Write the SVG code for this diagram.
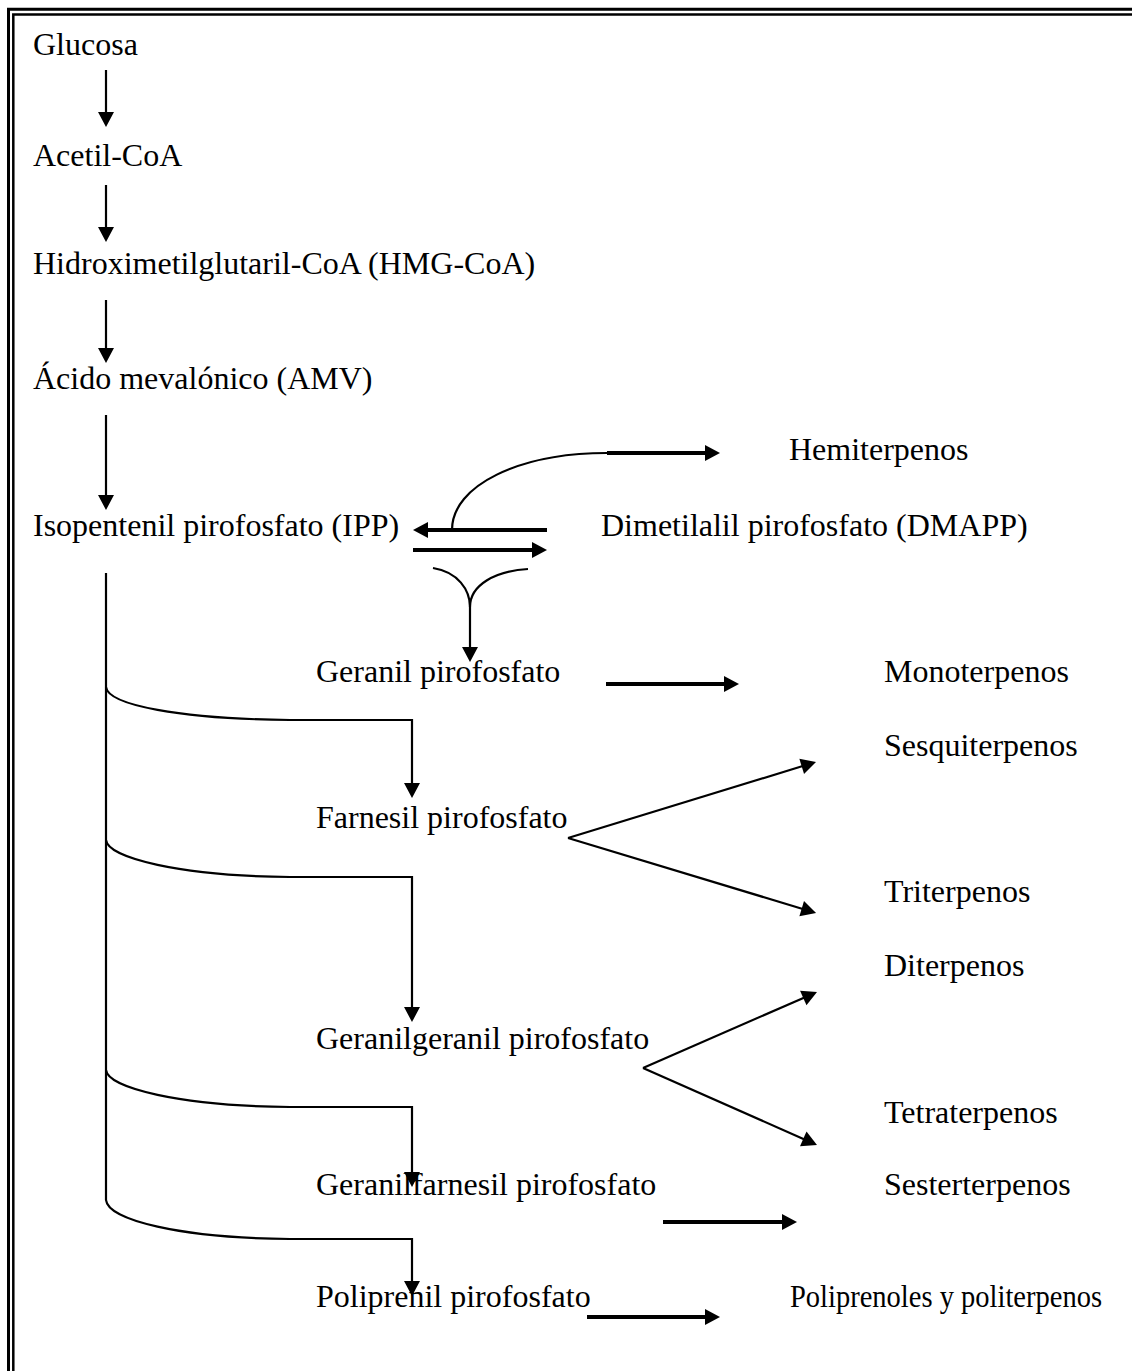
<svg xmlns="http://www.w3.org/2000/svg" width="1132" height="1371" viewBox="0 0 1132 1371">
<style>
text{font-family:"Liberation Serif","Times New Roman",serif;font-size:32px;fill:#000}
.thin{fill:none;stroke:#000;stroke-width:2.2}
.thick{fill:none;stroke:#000;stroke-width:4}
.border{fill:none;stroke:#000}
</style>
<defs>
<marker id="ah" markerUnits="userSpaceOnUse" viewBox="0 -8 15 16" markerWidth="15" markerHeight="16" refX="2" refY="0" orient="auto" overflow="visible">
<path d="M0,-8 L15,0 L0,8 z" fill="#000"/>
</marker>
</defs>
<rect width="1132" height="1371" fill="#fff"/>
<g id="border">
<path class="border" stroke-width="3" d="M8.5,1371 V9.3 H1132"/>
<path class="border" stroke-width="2.5" d="M13.3,1371 V14.5 H1132"/>
</g>
<g id="connectors">
<line class="thin" x1="106" y1="70" x2="106" y2="114" marker-end="url(#ah)"/>
<line class="thin" x1="106" y1="185" x2="106" y2="229" marker-end="url(#ah)"/>
<line class="thin" x1="106" y1="300" x2="106" y2="350" marker-end="url(#ah)"/>
<line class="thin" x1="106" y1="415" x2="106" y2="497" marker-end="url(#ah)"/>
<line class="thick" x1="547" y1="530" x2="426" y2="530" marker-end="url(#ah)"/>
<line class="thick" x1="413" y1="550" x2="534" y2="550" marker-end="url(#ah)"/>
<path class="thin" d="M452,530 C452,485 520,453 607,453"/>
<line class="thick" x1="607" y1="453" x2="707" y2="453" marker-end="url(#ah)"/>
<path class="thin" d="M433,568 C458,572 470,590 470,607"/>
<path class="thin" d="M528,569 C495,571 470,585 470,607 V649" marker-end="url(#ah)"/>
<line class="thick" x1="606" y1="684" x2="726" y2="684" marker-end="url(#ah)"/>
<path class="thin" d="M106,573 V1200"/>
<path class="thin" d="M106,687 C108,705 180,719 290,720 H412 V785" marker-end="url(#ah)"/>
<path class="thin" d="M106,840 C108,858 180,876 290,877 H412 V1009" marker-end="url(#ah)"/>
<path class="thin" d="M106,1070 C108,1088 180,1106 290,1107 H412 V1174" marker-end="url(#ah)"/>
<path class="thin" d="M106,1200 C108,1220 180,1238 290,1239 H412 V1283" marker-end="url(#ah)"/>
<line class="thin" x1="568" y1="838" x2="803.6" y2="765.8" marker-end="url(#ah)"/>
<line class="thin" x1="568" y1="838" x2="803.6" y2="909.2" marker-end="url(#ah)"/>
<line class="thin" x1="643" y1="1068" x2="805.1" y2="997.2" marker-end="url(#ah)"/>
<line class="thin" x1="643" y1="1068" x2="805.1" y2="1139.7" marker-end="url(#ah)"/>
<line class="thick" x1="663" y1="1222" x2="784" y2="1222" marker-end="url(#ah)"/>
<line class="thick" x1="587" y1="1317" x2="707" y2="1317" marker-end="url(#ah)"/>
</g>
<g id="n-glucosa"><text x="33" y="55">Glucosa</text></g>
<g id="n-acetil"><text x="33" y="166">Acetil-CoA</text></g>
<g id="n-hmg"><text x="33" y="274">Hidroximetilglutaril-CoA (HMG-CoA)</text></g>
<g id="n-amv"><text x="33" y="389">Ácido mevalónico (AMV)</text></g>
<g id="n-ipp"><text x="33" y="536">Isopentenil pirofosfato (IPP)</text></g>
<g id="n-dmapp"><text x="601" y="536">Dimetilalil pirofosfato (DMAPP)</text></g>
<g id="n-hemi"><text x="789" y="460">Hemiterpenos</text></g>
<g id="n-geranil"><text x="316" y="682">Geranil pirofosfato</text></g>
<g id="n-mono"><text x="884" y="682">Monoterpenos</text></g>
<g id="n-sesqui"><text x="884" y="756">Sesquiterpenos</text></g>
<g id="n-farnesil"><text x="316" y="828">Farnesil pirofosfato</text></g>
<g id="n-tri"><text x="884" y="902">Triterpenos</text></g>
<g id="n-di"><text x="884" y="976">Diterpenos</text></g>
<g id="n-gergeranil"><text x="316" y="1049">Geranilgeranil pirofosfato</text></g>
<g id="n-tetra"><text x="884" y="1123">Tetraterpenos</text></g>
<g id="n-gerfarnesil"><text x="316" y="1195">Geranilfarnesil pirofosfato</text></g>
<g id="n-sester"><text x="884" y="1195">Sesterterpenos</text></g>
<g id="n-poliprenil"><text x="316" y="1307">Poliprenil pirofosfato</text></g>
<g id="n-poliprenoles"><text x="790" y="1307" textLength="312" lengthAdjust="spacingAndGlyphs">Poliprenoles y politerpenos</text></g>
</svg>
